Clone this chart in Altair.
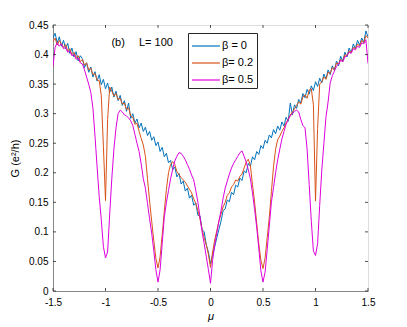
import altair as alt
import pandas as pd

# x grid (mu), step 0.02 from -1.5 to 1.5
mu = [round(-1.5 + 0.02 * i, 2) for i in range(151)]

g_beta0 = [
    0.428, 0.436, 0.420, 0.430, 0.414, 0.424, 0.410, 0.419, 0.402, 0.411,
    0.396, 0.405, 0.389, 0.398, 0.393, 0.378, 0.386, 0.370, 0.379, 0.362,
    0.371, 0.355, 0.366, 0.349, 0.358, 0.342, 0.352, 0.336, 0.345, 0.328,
    0.338, 0.322, 0.331, 0.314, 0.322, 0.304, 0.318, 0.292, 0.300, 0.284,
    0.291, 0.276, 0.284, 0.270, 0.277, 0.263, 0.270, 0.255, 0.261, 0.246,
    0.252, 0.236, 0.243, 0.227, 0.233, 0.217, 0.221, 0.205, 0.210, 0.193,
    0.199, 0.181, 0.186, 0.169, 0.174, 0.157, 0.162, 0.145, 0.149, 0.128,
    0.127, 0.104, 0.100, 0.078, 0.066, 0.046,
    0.060, 0.075, 0.090, 0.104, 0.118, 0.136, 0.139, 0.154, 0.151, 0.167,
    0.163, 0.179, 0.176, 0.191, 0.187, 0.203, 0.200, 0.216, 0.211, 0.227,
    0.222, 0.236, 0.231, 0.246, 0.241, 0.255, 0.250, 0.264, 0.259, 0.273,
    0.266, 0.279, 0.272, 0.286, 0.279, 0.294, 0.287, 0.318, 0.298, 0.315,
    0.309, 0.324, 0.318, 0.334, 0.327, 0.341, 0.333, 0.347, 0.339, 0.354,
    0.346, 0.360, 0.352, 0.367, 0.359, 0.374, 0.366, 0.381, 0.373, 0.389,
    0.381, 0.397, 0.389, 0.404, 0.396, 0.411, 0.403, 0.418, 0.410, 0.424,
    0.416, 0.428, 0.421, 0.440, 0.430,
]

g_beta02 = [
    0.422, 0.428, 0.416, 0.424, 0.418, 0.412, 0.417, 0.406, 0.410, 0.400,
    0.404, 0.395, 0.398, 0.388, 0.392, 0.382, 0.386, 0.374, 0.377, 0.366,
    0.368, 0.357, 0.356, 0.330, 0.245, 0.153, 0.290, 0.345, 0.338, 0.330,
    0.334, 0.324, 0.326, 0.316, 0.318, 0.307, 0.310, 0.296, 0.294, 0.282,
    0.284, 0.270, 0.258, 0.247, 0.228, 0.190, 0.152, 0.118, 0.085, 0.055,
    0.039, 0.058, 0.095, 0.135, 0.172, 0.200, 0.214, 0.219, 0.214, 0.202,
    0.197, 0.192, 0.188, 0.184, 0.178, 0.172, 0.166, 0.156, 0.148, 0.136,
    0.122, 0.104, 0.090, 0.078, 0.062, 0.040,
    0.066, 0.086, 0.102, 0.118, 0.130, 0.142, 0.150, 0.162, 0.166, 0.176,
    0.180, 0.188, 0.186, 0.194, 0.198, 0.208, 0.218, 0.223, 0.212, 0.180,
    0.150, 0.115, 0.080, 0.052, 0.038, 0.056, 0.090, 0.125, 0.168, 0.210,
    0.240, 0.256, 0.262, 0.270, 0.276, 0.285, 0.290, 0.298, 0.303, 0.308,
    0.314, 0.320, 0.316, 0.328, 0.332, 0.326, 0.340, 0.342, 0.315, 0.152,
    0.275, 0.350, 0.354, 0.362, 0.358, 0.370, 0.368, 0.378, 0.374, 0.386,
    0.384, 0.392, 0.388, 0.400, 0.398, 0.406, 0.404, 0.412, 0.410, 0.418,
    0.414, 0.424, 0.420, 0.432, 0.428,
]

g_beta05 = [
    0.380, 0.412, 0.420, 0.414, 0.418, 0.410, 0.412, 0.404, 0.406, 0.398,
    0.400, 0.392, 0.394, 0.386, 0.384, 0.374, 0.362, 0.350, 0.336, 0.310,
    0.262, 0.210, 0.160, 0.120, 0.075, 0.056, 0.066, 0.130, 0.190, 0.240,
    0.276, 0.300, 0.306, 0.303, 0.298, 0.296, 0.293, 0.288, 0.280, 0.265,
    0.250, 0.236, 0.215, 0.190, 0.174, 0.148, 0.122, 0.098, 0.068, 0.036,
    0.015, 0.036, 0.080, 0.125, 0.150, 0.170, 0.190, 0.206, 0.220, 0.228,
    0.234, 0.233, 0.228, 0.222, 0.214, 0.206, 0.196, 0.188, 0.170, 0.150,
    0.125, 0.100, 0.080, 0.058, 0.036, 0.013,
    0.052, 0.078, 0.098, 0.118, 0.136, 0.157, 0.174, 0.186, 0.198, 0.208,
    0.216, 0.222, 0.228, 0.234, 0.237, 0.228, 0.218, 0.205, 0.190, 0.166,
    0.138, 0.108, 0.072, 0.034, 0.015, 0.032, 0.070, 0.110, 0.150, 0.175,
    0.200, 0.222, 0.240, 0.257, 0.270, 0.282, 0.290, 0.296, 0.300, 0.304,
    0.306, 0.303, 0.290, 0.280, 0.276, 0.240, 0.180, 0.118, 0.068, 0.060,
    0.080, 0.145, 0.205, 0.250, 0.295, 0.320, 0.352, 0.364, 0.372, 0.380,
    0.384, 0.390, 0.388, 0.396, 0.398, 0.404, 0.402, 0.410, 0.408, 0.414,
    0.412, 0.420, 0.418, 0.425, 0.385,
]

series_names = ["β = 0", "β= 0.2", "β= 0.5"]
series_colors = ["#0072BD", "#D95319", "#DD00DD"]

x_ticks = [-1.5, -1, -0.5, 0, 0.5, 1, 1.5]
y_ticks = [0, 0.05, 0.1, 0.15, 0.2, 0.25, 0.3, 0.35, 0.4, 0.45]

ann_text = ["(b)", "L= 100"]
ann_x = [-0.88, -0.52]
ann_y = [0.42, 0.42]

rows = []
for name, vals in zip(series_names, [g_beta0, g_beta02, g_beta05]):
    for m, g in zip(mu, vals):
        rows.append({"mu": m, "G": g, "series": name})
df = pd.DataFrame(rows)

W, H = 315, 266
FONT = "Liberation Sans"
AX = "#262626"
xs = alt.Scale(domain=[-1.5, 1.5], nice=False, zero=False)
ys = alt.Scale(domain=[0, 0.45], nice=False, zero=False)

x_axis = alt.Axis(values=x_ticks, tickSize=0, labelPadding=6,
                  labelFlush=False, labelOverlap=False,
                  labelExpr="datum.value < 0 ? '-' + format(-datum.value, '~g') : format(datum.value, '~g')",
                  titleFontStyle="italic", titleFontWeight="normal",
                  titleFontSize=11, titlePadding=3, grid=False)
y_axis = alt.Axis(values=y_ticks, tickSize=0, labelPadding=5,
                  labelFlush=False, labelOverlap=False,
                  format="~g", titleFontWeight="normal",
                  titleFontSize=11, titlePadding=8, grid=False)
XT = "μ"
YT = "G (e²/h)"

lines = alt.Chart(df).mark_line(strokeWidth=1, clip=True).encode(
    x=alt.X("mu:Q", scale=xs, title=XT, axis=x_axis),
    y=alt.Y("G:Q", scale=ys, title=YT, axis=y_axis),
    color=alt.Color("series:N",
                    scale=alt.Scale(domain=series_names, range=series_colors),
                    legend=alt.Legend(title=None, orient="none", legendX=135, legendY=8,
                                      symbolType="M-1,0H2.1", symbolSize=324,
                                      symbolStrokeWidth=1.2, labelFontSize=11,
                                      labelFont=FONT, labelColor="#000000",
                                      strokeColor=AX, fillColor="white",
                                      padding=3, rowPadding=2, labelOffset=11)),
)

xt = pd.DataFrame({"t": x_ticks})
yt = pd.DataFrame({"t": y_ticks})
tick_style = dict(color=AX, strokeWidth=0.8)
bt = alt.Chart(xt).mark_rule(**tick_style).encode(
    x=alt.X("t:Q", scale=xs, title=XT, axis=x_axis), y=alt.value(H), y2=alt.value(H - 3))
tt = alt.Chart(xt).mark_rule(**tick_style).encode(
    x=alt.X("t:Q", scale=xs, title=XT, axis=x_axis), y=alt.value(0), y2=alt.value(3))
lt = alt.Chart(yt).mark_rule(**tick_style).encode(
    y=alt.Y("t:Q", scale=ys, title=YT, axis=y_axis), x=alt.value(0), x2=alt.value(3))
rt = alt.Chart(yt).mark_rule(**tick_style).encode(
    y=alt.Y("t:Q", scale=ys, title=YT, axis=y_axis), x=alt.value(W), x2=alt.value(W - 3))

ann = alt.Chart(pd.DataFrame({"x": ann_x, "y": ann_y, "text": ann_text})).mark_text(
    font=FONT, fontSize=11, color="#000000", align="center", baseline="middle"
).encode(x=alt.X("x:Q", scale=xs, title=XT, axis=x_axis),
         y=alt.Y("y:Q", scale=ys, title=YT, axis=y_axis),
         text="text:N")

chart = alt.layer(lines, bt, tt, lt, rt, ann).properties(
    width=W, height=H,
    autosize=alt.AutoSizeParams(type="none"),
    padding={"left": 45, "top": 17, "right": 24, "bottom": 32},
).configure_view(stroke=AX, strokeWidth=0.8).configure_axis(
    domain=False, labelFont=FONT, titleFont=FONT, labelFontSize=10,
    labelColor=AX, titleColor=AX,
).configure(background="white")

chart.save("out.html", embed_options={"renderer": "svg", "actions": False})
